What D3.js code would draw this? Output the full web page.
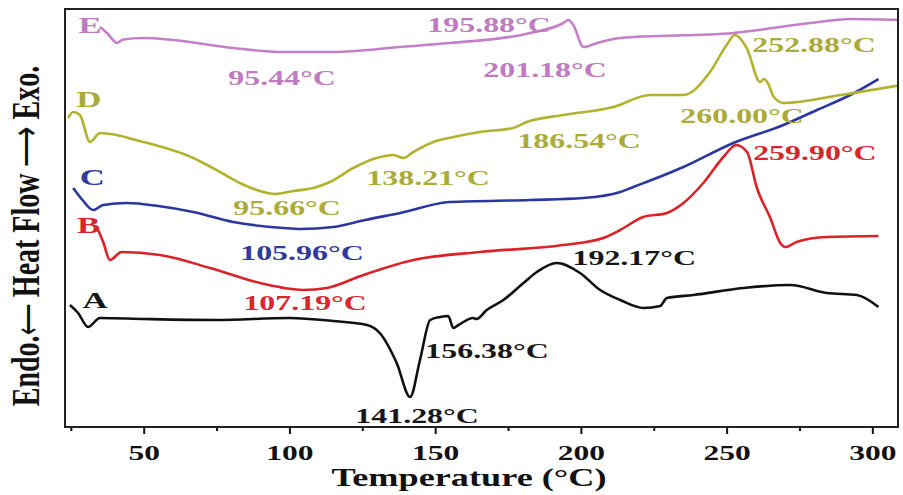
<!DOCTYPE html>
<html>
<head>
<meta charset="utf-8">
<script src="https://cdn.jsdelivr.net/npm/d3@7"></script>
<style>
  body { margin: 0; background: #fff; }
  svg text { font-family: "Liberation Serif", "Times New Roman", serif; font-weight: bold; }
</style>
</head>
<body>
<svg id="canvas"></svg>
<script>
// DSC curves, temperature (°C) vs heat flow (arbitrary units, curves offset)
let tempA = [24.7, 27.5, 30.9, 35, 50, 75, 100, 115, 126.6, 131, 136.8, 141.4, 144.8, 148.3, 151.7, 154.5, 156.2, 158, 163, 164.2, 167.7, 173.4, 180.3, 184.9, 191.7, 199.7, 206.6, 213.5, 221.5, 227.2, 229.5, 238.6, 255.8, 271.8, 284.4, 294.7, 302.1];
let flowA = [12.2, 11.4, 10.0, 10.9, 10.8, 10.7, 10.9, 10.6, 10.2, 9.4, 6.4, 3.0, 6.7, 10.7, 11.0, 11.1, 9.9, 10.2, 10.9, 10.8, 11.7, 12.7, 14.4, 15.5, 16.4, 15.4, 13.7, 12.7, 11.9, 12.1, 12.9, 13.2, 13.9, 14.2, 13.4, 13.2, 12.0];

let tempB = [33.9, 36.1, 38.4, 42.4, 55.6, 72.8, 89.9, 104.8, 112.8, 125.4, 142.5, 165.4, 194, 207.7, 213.5, 221.4, 229.5, 235.2, 242, 248.9, 253.3, 257, 260.4, 265, 268.4, 270.1, 274, 284.4, 302.1];
let flowB = [20.0, 18.5, 16.7, 17.5, 17.2, 15.9, 14.4, 13.7, 13.9, 15.2, 16.7, 17.5, 18.2, 18.9, 19.7, 21.0, 21.4, 22.4, 24.4, 27.0, 28.2, 27.5, 23.9, 20.9, 18.4, 18.0, 18.5, 19.0, 19.1];

let tempC = [25.8, 29, 32.7, 36.1, 44.2, 55, 67, 80.7, 97.9, 103.6, 115.1, 126, 138, 155.1, 182.6, 200.9, 213.5, 218, 235.2, 252.3, 269.5, 281, 292.4, 302.1];
let flowC = [23.9, 22.7, 21.7, 22.2, 22.4, 22.1, 21.5, 20.5, 19.9, 19.8, 20.0, 20.7, 21.4, 22.5, 22.7, 22.9, 23.5, 24.0, 26.0, 28.4, 30.2, 31.7, 33.2, 34.8];

let tempD = [24.1, 25.8, 28.1, 31.6, 35, 49.9, 67, 76.2, 83, 88.8, 95.1, 101.3, 108.2, 113.9, 121.9, 129.9, 135.7, 139.1, 142.5, 149.4, 156.3, 165.4, 176.8, 181.4, 194, 211.2, 223.7, 235.2, 244.3, 250, 252.8, 256.9, 261.5, 262.8, 264.3, 266.2, 269.7, 289.1, 310];
let flowD = [30.9, 31.5, 31.2, 28.5, 29.4, 28.5, 26.9, 25.5, 24.4, 23.7, 23.3, 23.6, 23.9, 24.5, 25.9, 26.9, 27.2, 26.9, 27.5, 28.5, 29.0, 29.5, 29.9, 30.5, 31.2, 32.0, 33.2, 33.2, 35.5, 38.2, 39.2, 37.9, 34.5, 34.8, 34.3, 33.0, 32.4, 33.2, 34.2];

let tempE = [35, 37.4, 39.5, 40.7, 43, 50, 60, 80.7, 97.9, 115, 138, 155.1, 182.6, 194, 195.7, 197.4, 200.9, 205.5, 213.5, 252.3, 278.7, 292.4, 310];
let flowE = [40.0, 39.4, 38.7, 38.4, 38.75, 38.9, 38.7, 37.9, 37.5, 37.5, 38.0, 38.4, 39.4, 40.4, 40.7, 40.2, 38.0, 38.4, 38.9, 39.4, 40.4, 40.8, 40.7];

let seriesNames = ['A', 'B', 'C', 'D', 'E'];
let seriesColors = ['#111111', '#da2228', '#2b379f', '#b3b22e', '#c57fc6'];
let labelColors = ['#161616', '#d9262b', '#2f3a9c', '#abab3c', '#c07ac2'];

// letter labels: [temperature, heat flow]
let letterPos = [[33.3, 11.9], [31.1, 19.4], [32.4, 24.2], [31.2, 32.0], [31.6, 39.4]];

// peak annotations
let peakText = ['141.28°C', '156.38°C', '192.17°C', '107.19°C', '259.90°C', '105.96°C', '95.66°C', '138.21°C', '186.54°C', '260.00°C', '252.88°C', '95.44°C', '201.18°C', '195.88°C'];
let peakSeries = [0, 0, 0, 1, 1, 2, 3, 3, 3, 3, 3, 4, 4, 4];
let peakTemp = [143.8, 167.8, 218.3, 105.4, 259.1, 104.3, 99.2, 147.6, 199.4, 255.3, 258.8, 97.5, 187.7, 168.5];
let peakFlow = [0.4, 6.9, 16.2, 11.7, 26.7, 16.7, 21.2, 24.2, 27.9, 30.4, 37.5, 34.2, 35.0, 39.5];
let peakAnchor = ['middle', 'middle', 'middle', 'middle', 'start', 'middle', 'middle', 'middle', 'middle', 'middle', 'start', 'middle', 'middle', 'middle'];

let majorTicks = [50, 100, 150, 200, 250, 300];
let minorTicks = [25, 75, 125, 175, 225, 275];

let temps = [tempA, tempB, tempC, tempD, tempE];
let flows = [flowA, flowB, flowC, flowD, flowE];

let width = 903;
let height = 495;
let margin = { top: 9, right: 5, bottom: 68, left: 65 };
let stretch = 1.45;

let canvas = d3.select('#canvas').attr('width', width).attr('height', height);

let xScale = d3.scaleLinear().domain([23, 308.8]).range([margin.left, width - margin.right]);
let yScale = d3.scaleLinear().domain([0, 41.8]).range([height - margin.bottom, margin.top]);

canvas.append('clipPath').attr('id', 'plot-clip')
	.append('rect')
	.attr('x', margin.left)
	.attr('y', margin.top)
	.attr('width', width - margin.left - margin.right)
	.attr('height', height - margin.top - margin.bottom);

// stretched bold serif text, like the original figure
let addText = (g, str, x, y, size, color, anchor) => {
	g.append('text')
		.attr('transform', `translate(${x}, ${y}) scale(${stretch}, 1)`)
		.attr('text-anchor', anchor)
		.attr('font-size', size)
		.attr('fill', color)
		.text(str);
};

let drawCurves = () => {
	let line = d3.line()
		.x(d => xScale(d[0]))
		.y(d => yScale(d[1]))
		.curve(d3.curveMonotoneX);

	let g = canvas.append('g').attr('clip-path', 'url(#plot-clip)');
	seriesNames.forEach((name, i) => {
		let pts = temps[i].map((t, j) => [t, flows[i][j]]);
		g.append('path')
			.datum(pts)
			.attr('fill', 'none')
			.attr('stroke', seriesColors[i])
			.attr('stroke-width', 2.6)
			.attr('stroke-linejoin', 'round')
			.attr('d', line);
	});
};

let drawLabels = () => {
	let g = canvas.append('g');
	seriesNames.forEach((name, i) => {
		addText(g, name, xScale(letterPos[i][0]), yScale(letterPos[i][1]), 24, labelColors[i], 'middle');
	});
	peakText.forEach((str, i) => {
		addText(g, str, xScale(peakTemp[i]), yScale(peakFlow[i]), 22, labelColors[peakSeries[i]], peakAnchor[i]);
	});
};

let drawAxes = () => {
	let bottom = height - margin.bottom;

	let xAxis = d3.axisBottom(xScale).tickValues(majorTicks).tickSize(7).tickSizeOuter(0);
	let gx = canvas.append('g')
		.attr('id', 'x-axis')
		.attr('transform', `translate(0, ${bottom})`)
		.call(xAxis);
	gx.select('.domain').remove();
	gx.selectAll('line').attr('stroke', '#111').attr('stroke-width', 2);
	gx.selectAll('text')
		.attr('y', 33)
		.attr('dy', 0)
		.attr('fill', '#111')
		.attr('font-size', 21)
		.attr('font-family', '"Liberation Serif", serif')
		.attr('font-weight', 'bold')
		.attr('transform', `scale(${stretch + 0.05}, 1)`);

	let minorAxis = d3.axisBottom(xScale).tickValues(minorTicks).tickSize(4).tickFormat('');
	let gm = canvas.append('g')
		.attr('transform', `translate(0, ${bottom})`)
		.call(minorAxis);
	gm.select('.domain').remove();
	gm.selectAll('line').attr('stroke', '#111').attr('stroke-width', 2);

	// frame
	canvas.append('rect')
		.attr('x', margin.left)
		.attr('y', margin.top)
		.attr('width', width - margin.left - margin.right)
		.attr('height', height - margin.top - margin.bottom)
		.attr('fill', 'none')
		.attr('stroke', '#222')
		.attr('stroke-width', 2);

	// x title
	addText(canvas, 'Temperature (°C)', 469, 486, 25, '#111', 'middle');

	// y title (rotated, stretched across)
	let yt = canvas.append('text')
		.attr('transform', `translate(39, 236) rotate(-90) scale(1, ${stretch})`)
		.attr('text-anchor', 'middle')
		.attr('font-size', 28)
		.attr('fill', '#111');
	yt.append('tspan').text('Endo.');
	yt.append('tspan').attr('font-weight', 'normal').attr('font-size', 22).text('\u27F5');
	yt.append('tspan').text(' Heat Flow ');
	yt.append('tspan').attr('font-weight', 'normal').attr('font-size', 28).text('\u27F6');
	yt.append('tspan').text(' Exo.');
};

drawCurves();
drawLabels();
drawAxes();
</script>
</body>
</html>
